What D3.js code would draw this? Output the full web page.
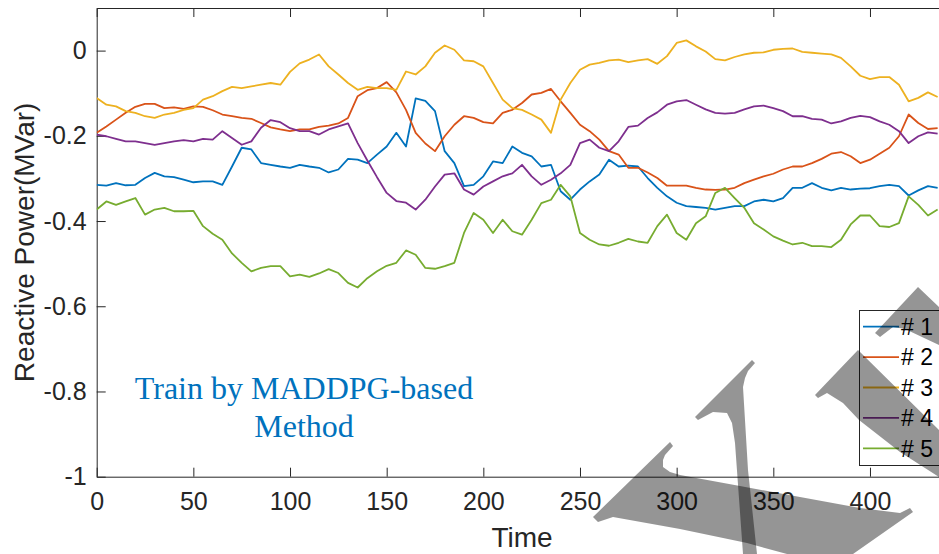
<!DOCTYPE html>
<html>
<head>
<meta charset="utf-8">
<script src="https://cdn.jsdelivr.net/npm/d3@7"></script>
<style>
  body { margin: 0; background: #fff; overflow: hidden; }
  svg text { font-family: "Liberation Sans", Arial, Helvetica, sans-serif; }
</style>
</head>
<body>
<div id="container"></div>
<script>
/* DATA */
const time = [0,5,10,15,20,25,30,35,40,45,50,55,60,65,70,75,80,85,90,95,
  100,105,110,115,120,125,130,135,140,145,150,155,160,165,170,175,180,185,190,195,
  200,205,210,215,220,225,230,235,240,245,250,255,260,265,270,275,280,285,290,295,
  300,305,310,315,320,325,330,335,340,345,350,355,360,365,370,375,380,385,390,395,
  400,405,410,415,420,425,430,435];

const bus1 = [-0.315,-0.317,-0.311,-0.316,-0.315,-0.299,-0.287,-0.295,-0.297,-0.303,
  -0.309,-0.307,-0.307,-0.315,-0.272,-0.228,-0.232,-0.264,-0.268,-0.272,
  -0.275,-0.268,-0.272,-0.275,-0.286,-0.279,-0.254,-0.256,-0.264,-0.244,
  -0.225,-0.193,-0.225,-0.112,-0.118,-0.142,-0.236,-0.264,-0.318,-0.315,
  -0.295,-0.260,-0.264,-0.225,-0.240,-0.248,-0.272,-0.268,-0.330,-0.350,
  -0.326,-0.307,-0.291,-0.256,-0.272,-0.270,-0.272,-0.299,-0.322,-0.342,
  -0.357,-0.365,-0.367,-0.369,-0.373,-0.369,-0.365,-0.365,-0.354,-0.350,
  -0.354,-0.346,-0.322,-0.322,-0.311,-0.322,-0.328,-0.322,-0.326,-0.324,
  -0.323,-0.318,-0.315,-0.318,-0.340,-0.328,-0.318,-0.322];

const bus2 = [-0.193,-0.178,-0.162,-0.146,-0.132,-0.125,-0.125,-0.135,-0.133,-0.137,
  -0.131,-0.132,-0.140,-0.150,-0.154,-0.158,-0.160,-0.170,-0.180,-0.185,
  -0.189,-0.185,-0.185,-0.179,-0.176,-0.171,-0.158,-0.107,-0.093,-0.088,
  -0.074,-0.098,-0.139,-0.193,-0.218,-0.236,-0.201,-0.174,-0.154,-0.158,
  -0.168,-0.171,-0.146,-0.139,-0.123,-0.103,-0.099,-0.090,-0.119,-0.146,
  -0.174,-0.189,-0.209,-0.236,-0.244,-0.275,-0.275,-0.286,-0.299,-0.317,
  -0.317,-0.317,-0.322,-0.326,-0.327,-0.326,-0.322,-0.311,-0.303,-0.295,
  -0.289,-0.279,-0.272,-0.272,-0.264,-0.254,-0.242,-0.238,-0.248,-0.264,
  -0.256,-0.242,-0.228,-0.201,-0.150,-0.170,-0.184,-0.182];

const bus3 = [-0.111,-0.127,-0.131,-0.142,-0.146,-0.154,-0.158,-0.150,-0.146,-0.139,
  -0.135,-0.115,-0.107,-0.095,-0.085,-0.088,-0.084,-0.080,-0.076,-0.080,
  -0.050,-0.030,-0.021,-0.009,-0.037,-0.056,-0.076,-0.092,-0.085,-0.088,
  -0.088,-0.092,-0.049,-0.056,-0.037,-0.005,0.012,0.002,-0.023,-0.025,
  -0.037,-0.076,-0.115,-0.135,-0.139,-0.150,-0.162,-0.193,-0.115,-0.076,
  -0.045,-0.033,-0.029,-0.023,-0.021,-0.027,-0.023,-0.020,-0.031,-0.013,
  0.018,0.024,0.010,-0.002,-0.020,-0.023,-0.015,-0.009,-0.005,-0.004,
  0.002,0.004,0.005,-0.003,-0.005,-0.007,-0.009,-0.017,-0.037,-0.059,
  -0.067,-0.062,-0.062,-0.080,-0.119,-0.111,-0.098,-0.109];

const bus4 = [-0.197,-0.201,-0.207,-0.213,-0.213,-0.217,-0.221,-0.217,-0.213,-0.210,
  -0.213,-0.207,-0.209,-0.189,-0.205,-0.221,-0.213,-0.181,-0.163,-0.168,
  -0.182,-0.189,-0.189,-0.197,-0.185,-0.178,-0.171,-0.217,-0.258,-0.297,
  -0.334,-0.353,-0.357,-0.373,-0.350,-0.319,-0.291,-0.288,-0.326,-0.338,
  -0.319,-0.307,-0.295,-0.288,-0.268,-0.295,-0.315,-0.303,-0.288,-0.268,
  -0.217,-0.209,-0.228,-0.236,-0.213,-0.179,-0.176,-0.158,-0.145,-0.127,
  -0.119,-0.116,-0.127,-0.138,-0.146,-0.148,-0.146,-0.138,-0.131,-0.129,
  -0.135,-0.142,-0.154,-0.154,-0.160,-0.162,-0.171,-0.166,-0.158,-0.153,
  -0.156,-0.166,-0.174,-0.189,-0.217,-0.201,-0.192,-0.195];

const bus5 = [-0.373,-0.354,-0.362,-0.354,-0.346,-0.385,-0.373,-0.369,-0.377,-0.377,
  -0.376,-0.412,-0.430,-0.444,-0.476,-0.498,-0.518,-0.510,-0.506,-0.506,
  -0.530,-0.526,-0.531,-0.523,-0.513,-0.522,-0.545,-0.556,-0.534,-0.518,
  -0.505,-0.498,-0.469,-0.479,-0.510,-0.512,-0.506,-0.498,-0.428,-0.381,
  -0.397,-0.428,-0.397,-0.424,-0.432,-0.397,-0.358,-0.350,-0.315,-0.342,
  -0.428,-0.444,-0.455,-0.458,-0.451,-0.442,-0.448,-0.451,-0.412,-0.385,
  -0.428,-0.444,-0.405,-0.389,-0.334,-0.322,-0.346,-0.369,-0.405,-0.420,
  -0.436,-0.446,-0.455,-0.451,-0.459,-0.459,-0.461,-0.444,-0.408,-0.387,
  -0.387,-0.412,-0.414,-0.405,-0.342,-0.362,-0.387,-0.373];

const seriesNames = ["# 1", "# 2", "# 3", "# 4", "# 5"];
const seriesColors = ["#0072BD", "#D95319", "#EDB120", "#7E2F8E", "#77AC30"];
const xTicks = [0, 50, 100, 150, 200, 250, 300, 350, 400];
const yTicks = [-1, -0.8, -0.6, -0.4, -0.2, 0];

/* CONSTANTS */
const width = 939, height = 554;
const plot = { left: 96.7, right: 947.3, top: 8, bottom: 476.7 };

const svg = d3.select("#container").append("svg")
  .attr("width", width)
  .attr("height", height);

/* SCALES */
const xScale = d3.scaleLinear().domain([0, 440]).range([plot.left, plot.right]);
const yScale = d3.scaleLinear().domain([-1, 0.1]).range([plot.bottom, plot.top]);

/* AXES */
const styleAxis = g => {
  g.selectAll("path.domain").attr("stroke", "#262626");
  g.selectAll(".tick line").attr("stroke", "#262626");
  g.selectAll(".tick text").attr("fill", "#262626").style("font-size", "25px");
};

svg.append("g")
  .attr("transform", `translate(0,${plot.bottom})`)
  .call(d3.axisBottom(xScale).tickValues(xTicks).tickSizeInner(-9).tickSizeOuter(0).tickPadding(16))
  .call(styleAxis);

svg.append("g")
  .attr("transform", `translate(0,${plot.top})`)
  .call(d3.axisTop(xScale).tickValues(xTicks).tickSizeInner(-9).tickSizeOuter(0).tickFormat(""))
  .call(styleAxis);

svg.append("g")
  .attr("transform", `translate(${plot.left},0)`)
  .call(d3.axisLeft(yScale).tickValues(yTicks).tickSizeInner(-9).tickSizeOuter(0).tickPadding(10)
    .tickFormat(d => String(d)))
  .call(styleAxis);

// axis labels
svg.append("text")
  .attr("x", (plot.left + plot.right) / 2)
  .attr("y", 547)
  .attr("text-anchor", "middle")
  .attr("fill", "#262626")
  .style("font-size", "28px")
  .text("Time");

svg.append("text")
  .attr("transform", `translate(34,${(plot.top + plot.bottom) / 2}) rotate(-90)`)
  .attr("text-anchor", "middle")
  .attr("fill", "#262626")
  .style("font-size", "28px")
  .text("Reactive Power(MVar)");

/* LINES */
svg.append("clipPath").attr("id", "clip")
  .append("rect")
  .attr("x", plot.left).attr("y", plot.top)
  .attr("width", plot.right - plot.left).attr("height", plot.bottom - plot.top);

const allSeries = [bus1, bus2, bus3, bus4, bus5];
const line = d3.line()
  .x((d, i) => xScale(time[i]))
  .y(d => yScale(d));

svg.append("g").attr("clip-path", "url(#clip)")
  .selectAll("path")
  .data(allSeries)
  .join("path")
  .attr("d", line)
  .attr("fill", "none")
  .attr("stroke", (d, i) => seriesColors[i])
  .attr("stroke-width", 1.8)
  .attr("stroke-linejoin", "round");

/* ANNOTATION */
const note = svg.append("text")
  .attr("text-anchor", "middle")
  .attr("fill", "#0072BD")
  .style("font-family", "'Liberation Serif', 'Times New Roman', serif")
  .style("font-size", "32px");
note.append("tspan").attr("x", 304).attr("y", 399).text("Train by MADDPG-based");
note.append("tspan").attr("x", 304).attr("y", 437).text("Method");

/* LEGEND */
const legend = svg.append("g");
legend.append("rect")
  .attr("x", 859.5).attr("y", 310.5)
  .attr("width", 100).attr("height", 155)
  .attr("fill", "#fff")
  .attr("stroke", "#262626");

const legendRows = legend.selectAll("g.row")
  .data(seriesNames)
  .join("g")
  .attr("class", "row")
  .attr("transform", (d, i) => `translate(0,${326.7 + i * 30.4})`);

legendRows.append("line")
  .attr("x1", 863).attr("x2", 899)
  .attr("stroke", (d, i) => seriesColors[i])
  .attr("stroke-width", 1.8);

legendRows.append("text")
  .attr("x", 901)
  .attr("y", 8.3)
  .attr("fill", "#000")
  .style("font-size", "23px")
  .text(d => d);

/* GRAY OVERLAY SHAPES */
const shapes = [
  [[593,517],[670,442],[673,446],[665,455],[663,460],[663,467],[670,472],[680,475],[740,486],[800,497],
   [860,508],[900,513],[910,508],[913,512],[853,554],[787,554],[747,543],[680,529],[613,517],[598,522]],
  [[695,417],[752,360],[755,363],[748,371],[745,378],[743,387],[748,470],[757,554],[743,554],[735,443],
   [732,423],[727,413],[713,412],[698,420]],
  [[815,395],[858,350],[939,430],[939,477],[900,452],[859,420],[843,403],[827,393],[818,398]],
  [[875,333],[918,287],[939,307],[939,345],[905,329],[893,327],[880,337]]
];

svg.append("g")
  .selectAll("path")
  .data(shapes)
  .join("path")
  .attr("d", d => d3.line().curve(d3.curveLinearClosed)(d))
  .attr("fill", "#000")
  .attr("fill-opacity", 0.415);
</script>
</body>
</html>
